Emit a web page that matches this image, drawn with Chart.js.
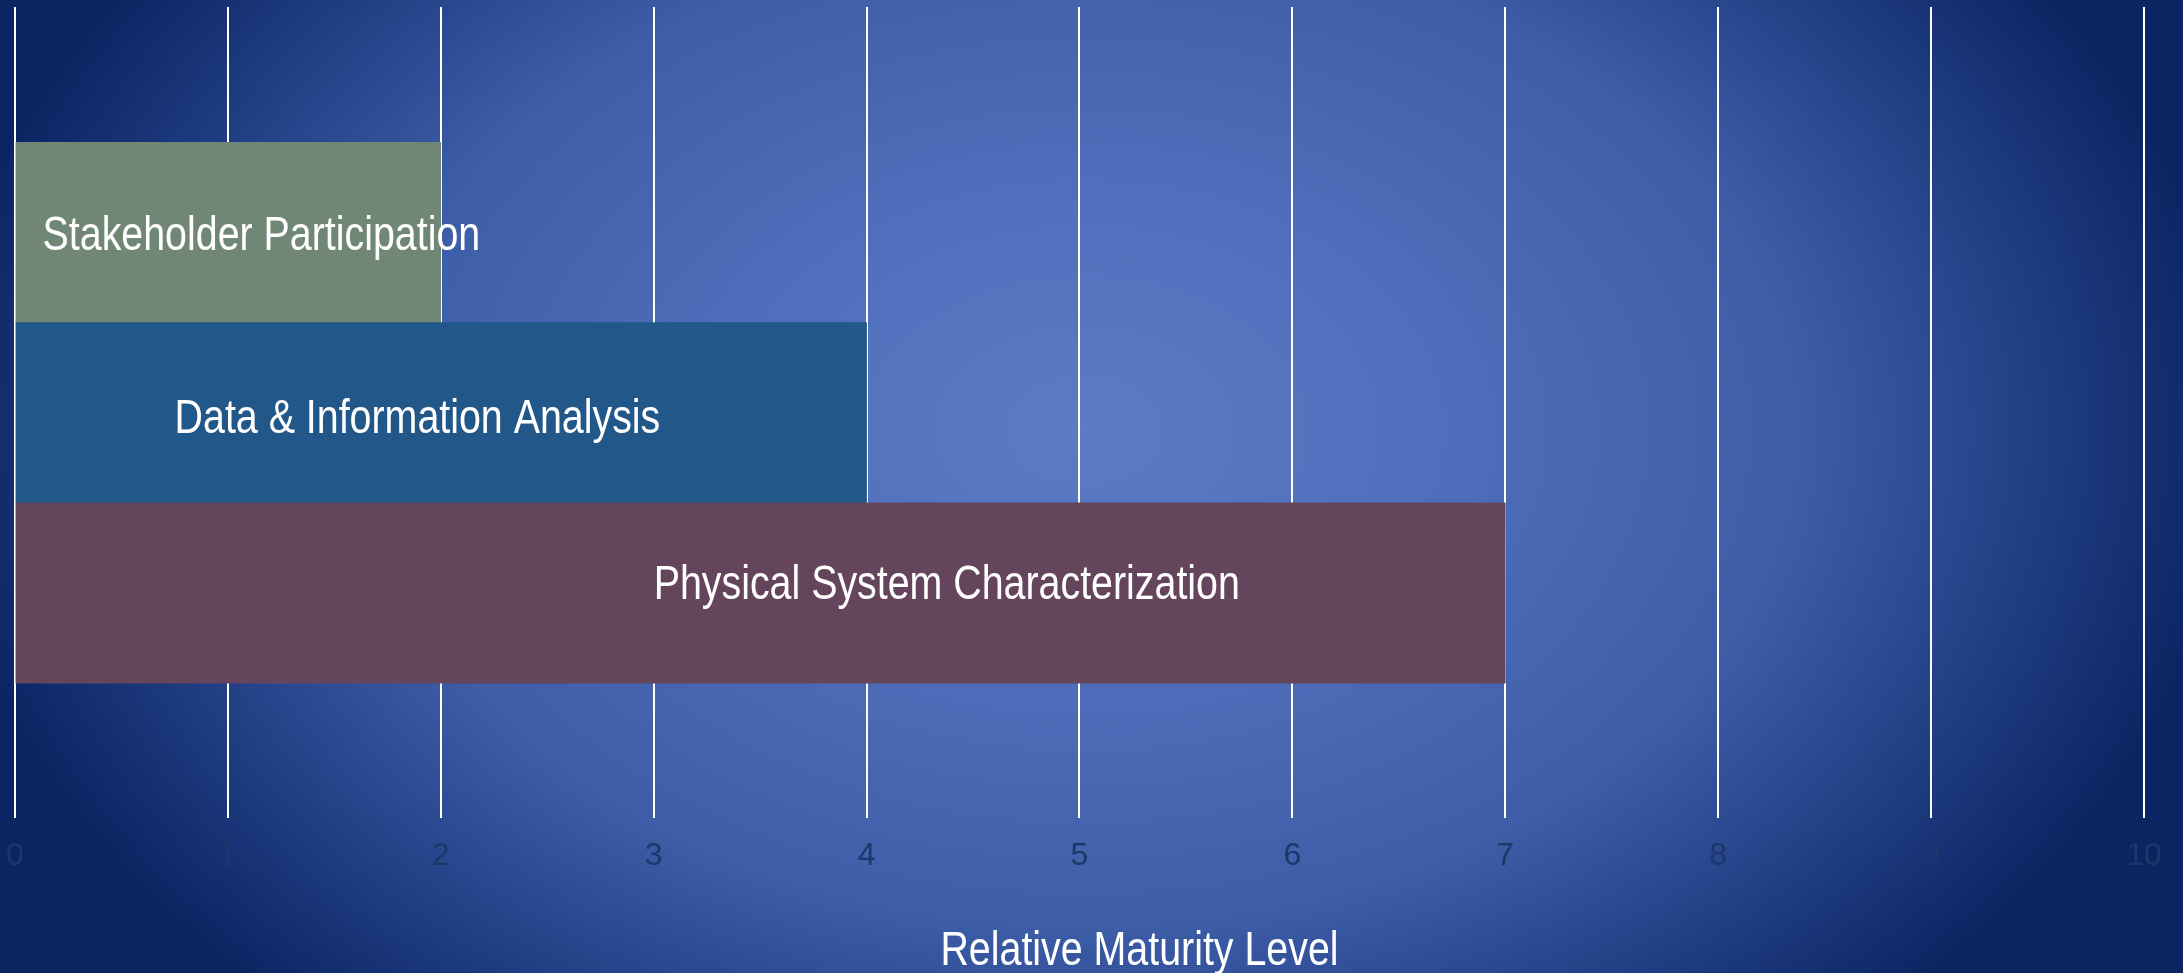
<!DOCTYPE html>
<html>
<head>
<meta charset="utf-8">
<title>Relative Maturity Level</title>
<script src="https://cdn.jsdelivr.net/npm/chart.js@4.4.1/dist/chart.umd.min.js"></script>
<style>
  html, body { margin: 0; padding: 0; }
  body {
    width: 2183px;
    height: 973px;
    overflow: hidden;
    background: radial-gradient(ellipse 1150px 800px at 1085px 430px,
      #5b7bc6 0%, #4f6fbc 30%, #3d5da7 62%, #1f3c82 84%, #0b2562 100%);
  }
  #contenedor { position: relative; width: 2183px; height: 973px; }
</style>
</head>
<body>
<div id="contenedor">
  <canvas id="graficoMadurez"></canvas>
</div>
<script>
// Datos del grafico
var categorias = ["Stakeholder Participation", "Data & Information Analysis", "Physical System Characterization"];
var valores = [2, 4, 7];
var colores = ["#718775", "#22578a", "#64455b"];
var etiquetasX = ["0", "1", "2", "3", "4", "5", "6", "7", "8", "9", "10"];
var tituloEje = "Relative Maturity Level";

var fuente = "'Liberation Sans', Arial, sans-serif";
var estrechar = 0.82; // imita Arial Narrow
var graficoMadurez = null;

function textoEstrecho(ctx, texto, x, y) {
  ctx.save();
  ctx.translate(x, y);
  ctx.scale(estrechar, 1);
  ctx.fillText(texto, 0, 0);
  ctx.restore();
}

// Textos dentro de las barras (inicio en unidades del eje x, bajada en px)
var pluginEtiquetas = {
  id: "etiquetasBarras",
  afterDatasetsDraw: function(chart, args, opts) {
    var ctx = chart.ctx;
    var meta = chart.getDatasetMeta(0);
    var xScale = chart.scales.x;
    ctx.save();
    ctx.fillStyle = "#ffffff";
    ctx.font = "48px " + fuente;
    ctx.textAlign = "left";
    ctx.textBaseline = "alphabetic";
    meta.data.forEach(function(barra, i) {
      var x = xScale.getPixelForValue(opts.inicio[i]);
      textoEstrecho(ctx, categorias[i], x, barra.y + opts.bajada[i]);
    });
    // Titulo del eje
    ctx.textAlign = "center";
    textoEstrecho(ctx, tituloEje, chart.width / 2 + opts.tituloDx, opts.tituloY);
    ctx.restore();
  }
};

function crearGrafico() {
  var canvas = document.getElementById("graficoMadurez");
  var ctx = canvas.getContext("2d");

  Chart.defaults.font.family = fuente;

  var puntos = valores.map(function(v, i) {
    return { x: v, y: i + 1 };
  });

  graficoMadurez = new Chart(ctx, {
    type: "bar",
    data: {
      datasets: [
        {
          label: tituloEje,
          data: puntos,
          backgroundColor: colores,
          borderWidth: 0,
          categoryPercentage: 1,
          barPercentage: 1
        }
      ]
    },
    plugins: [pluginEtiquetas],
    options: {
      indexAxis: "y",
      responsive: true,
      maintainAspectRatio: false,
      animation: false,
      layout: {
        padding: { left: 0, right: 39, top: 7, bottom: 79.5 }
      },
      plugins: {
        legend: { display: false },
        tooltip: { enabled: false },
        etiquetasBarras: {
          inicio: [0.13, 0.75, 3.0],
          bajada: [17.5, 20, 6],
          tituloDx: 48,
          tituloY: 965
        }
      },
      scales: {
        x: {
          type: "linear",
          min: 0,
          max: 10,
          grid: {
            color: "#ffffff",
            lineWidth: 2,
            drawTicks: false
          },
          border: { display: false },
          ticks: {
            stepSize: 1,
            padding: 6,
            color: "#1b3868",
            font: { size: 32, lineHeight: 1.97 },
            callback: function(valor, indice) {
              return etiquetasX[indice];
            }
          }
        },
        y: {
          type: "linear",
          display: false,
          reverse: true,
          offset: false,
          min: -0.25,
          max: 4.25,
          grid: { display: false },
          afterBuildTicks: function(escala) {
            // solo las posiciones de las barras, para que el grosor sea el paso completo
            escala.ticks = valores.map(function(v, i) { return { value: i + 1 }; });
          }
        }
      }
    }
  });
}

crearGrafico();
</script>
</body>
</html>
